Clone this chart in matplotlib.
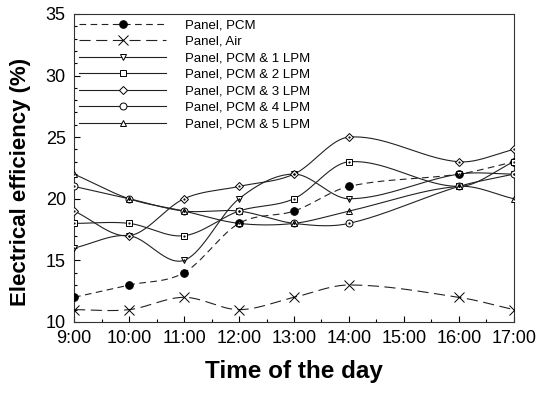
import matplotlib
matplotlib.use("Agg")
import matplotlib.pyplot as plt
import numpy as np

plt.rcParams['font.family'] = ['Liberation Sans', 'DejaVu Sans']

# hours of the day (no reading at 15:00)
hours = [9, 10, 11, 12, 13, 14, 16, 17]
tick_labels = ["9:00", "10:00", "11:00", "12:00", "13:00", "14:00", "15:00", "16:00", "17:00"]

pcm = [12, 13, 14, 18, 19, 21, 22, 23]
air = [11, 11, 12, 11, 12, 13, 12, 11]
lpm1 = [16, 17, 15, 20, 22, 20, 22, 22]
lpm2 = [18, 18, 17, 19, 20, 23, 21, 23]
lpm3 = [19, 17, 20, 21, 22, 25, 23, 24]
lpm4 = [21, 20, 19, 19, 18, 18, 21, 22]
lpm5 = [22, 20, 19, 18, 18, 19, 21, 20]


def smooth(x, y, n=40):
    # Catmull-Rom style Hermite curve through the points, only for drawing
    x = np.asarray(x, float)
    y = np.asarray(y, float)
    m = np.zeros_like(y)
    m[1:-1] = (y[2:] - y[:-2]) / (x[2:] - x[:-2])
    m[0] = (y[1] - y[0]) / (x[1] - x[0])
    m[-1] = (y[-1] - y[-2]) / (x[-1] - x[-2])
    xs_all, ys_all = [], []
    for i in range(len(x) - 1):
        h = x[i + 1] - x[i]
        t = np.linspace(0, 1, n)
        h00 = 2 * t**3 - 3 * t**2 + 1
        h10 = t**3 - 2 * t**2 + t
        h01 = -2 * t**3 + 3 * t**2
        h11 = t**3 - t**2
        xs_all.append(x[i] + t * h)
        ys_all.append(h00 * y[i] + h10 * h * m[i] + h01 * y[i + 1] + h11 * h * m[i + 1])
    return np.concatenate(xs_all), np.concatenate(ys_all)


fig = plt.figure(figsize=(5.37, 3.97), dpi=100)
ax = fig.add_axes([0.138, 0.189, 0.819, 0.776])

series = [
    ("Panel, PCM", pcm, 'o', 'black', (0, (6, 4)), 5.5),
    ("Panel, Air", air, 'x', 'none', (0, (10, 5)), 6.5),
    ("Panel, PCM & 1 LPM", lpm1, 'v', 'white', '-', 5),
    ("Panel, PCM & 2 LPM", lpm2, 's', 'white', '-', 4.5),
    ("Panel, PCM & 3 LPM", lpm3, 'D', 'white', '-', 4.2),
    ("Panel, PCM & 4 LPM", lpm4, 'o', 'white', '-', 5),
    ("Panel, PCM & 5 LPM", lpm5, '^', 'white', '-', 5),
]

for label, vals, mk, fc, ls, ms in series:
    xs, ys = smooth(hours, vals)
    ax.plot(xs, ys, color='#222222', lw=0.8, ls=ls, zorder=2)
    ax.plot(hours, vals, ls='none', marker=mk, ms=ms, mfc=fc, mec='black', mew=0.7, zorder=3)
    if fc == 'white':
        ax.plot(hours, vals, ls='none', marker='.', ms=1.2, color='black', zorder=4)
    ax.plot([], [], color='#222222', lw=0.8, ls=ls, marker=mk, ms=ms, mfc=fc,
            mec='black', mew=0.7, label=label)

ax.set_xlim(9, 17)
ax.set_ylim(10, 35)
ax.set_xticks(range(9, 18))
ax.set_xticklabels(tick_labels)
ax.set_xticks(np.arange(9, 17.01, 0.5), minor=True)
ax.set_yticks(range(10, 36, 5))
ax.set_yticks(range(10, 36), minor=True)
ax.tick_params(direction='in', labelsize=13, top=False, right=False, length=4, width=0.8, pad=6)
ax.tick_params(which='minor', direction='in', length=2.5, width=0.8, top=False, right=False)
for s in ax.spines.values():
    s.set_linewidth(0.8)
    s.set_color('#333333')

ax.set_xlabel("Time of the day", fontsize=17.5, fontweight='bold', labelpad=9)
ax.set_ylabel("Electrical efficiency (%)", fontsize=16, fontweight='bold')
ax.yaxis.set_label_coords(-0.098, 0.455)

ax.legend(loc='upper left', frameon=False, fontsize=9.5, handlelength=6.6,
          handletextpad=1.4, labelspacing=0.32, borderaxespad=0.0,
          bbox_to_anchor=(0.0, 1.0))

fig.savefig("out.png", dpi=100)
